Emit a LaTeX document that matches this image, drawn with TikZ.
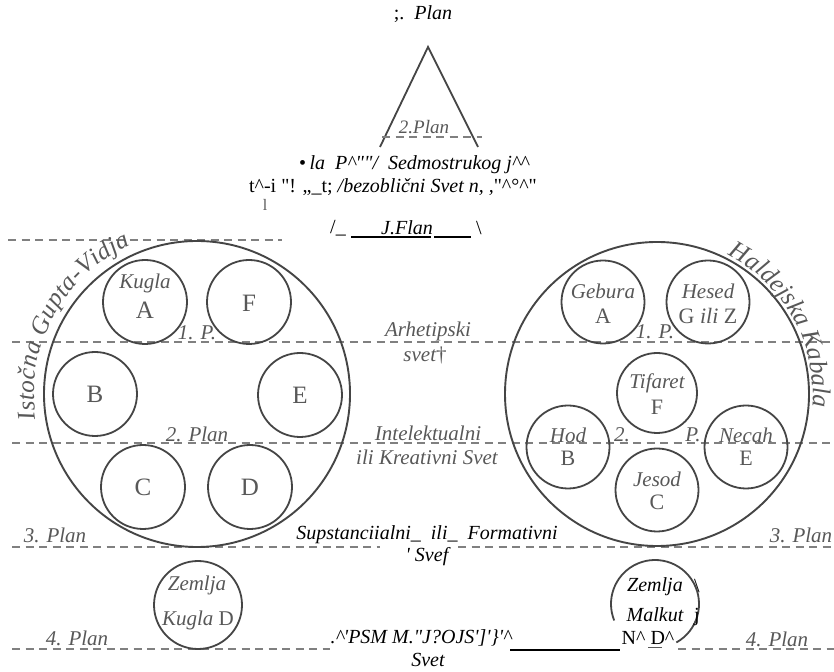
\documentclass[tikz,border=0pt]{standalone}
\usepackage{fontspec}
\setmainfont{Liberation Serif}
\usetikzlibrary{decorations.text}
\definecolor{tgray}{HTML}{585858}
\definecolor{cgray}{HTML}{454545}
\definecolor{dgray}{HTML}{808080}
\begin{document}
\begin{tikzpicture}[x=1pt,y=1pt,
  circ/.style={draw=cgray, line width=1.8pt, circle, inner sep=0pt, minimum size=84pt},
  bigc/.style={draw=cgray, line width=1.9pt, circle, inner sep=0pt, minimum size=306pt},
  dline/.style={draw=dgray, line width=1.1pt, dash pattern=on 8pt off 5.5pt},
  gtxt/.style={text=tgray, font=\fontsize{21}{21}\selectfont\itshape, inner sep=0pt},
  glet/.style={text=tgray, font=\fontsize{25}{25}\selectfont, inner sep=0pt},
  btxt/.style={text=black, font=\fontsize{20}{20}\selectfont\itshape, inner sep=0pt},
  bup/.style={text=black, font=\fontsize{20}{20}\selectfont, inner sep=0pt},
  uline/.style={draw=black, line width=2pt},
  arctxt/.style={decorate, decoration={text along path, text align=fit to path, text color=tgray}}
]
\fill[white] (0,0) rectangle (834,671);
\useasboundingbox (0,0) rectangle (834,671);

% ---------- top: triangle ----------
\node[btxt] (topplan) at (423,657) {\upshape;.\ \ \itshape Plan};
\coordinate (tapex) at (428,624);
\coordinate (tleft) at (380,524);
\coordinate (tright) at (478,524);
\draw[cgray, line width=1.8pt] (tleft) -- (tapex) -- (tright);
\coordinate (tdl) at (382,534);
\coordinate (tdr) at (482,534);
\draw[dline] (tdl) -- (tdr);
\node[gtxt, font=\fontsize{19}{19}\selectfont\itshape] (tplan) at (424,544) {2.Plan};

% ---------- OCR text lines ----------
\node[btxt] (line1) at (414,506) {{\upshape •}\,la\ \ P\textasciicircum\textquotedbl\textquotedbl/\ \ Sedmostrukog j\textasciicircum\textasciicircum};
\node[btxt] (line2) at (393,484) {\upshape t\textasciicircum-i \textquotedbl! „\_t; \itshape /bezoblični Svet n, ,\upshape\textquotedbl\textasciicircum°\textasciicircum\textquotedbl};
\node[text=tgray, font=\fontsize{16}{16}\selectfont, inner sep=0pt] (mark) at (265,466) {l};
\node[bup] (slash) at (338,443) {/\_};
\node[btxt] (jflan) at (407,443) {J.Flan};
\node[bup] (bslash) at (479,443) {\textbackslash};
\coordinate (u1a) at (351,434); \coordinate (u1b) at (431,434);
\coordinate (u2a) at (434,434); \coordinate (u2b) at (471,434);
\draw[uline] (u1a) -- (u1b);
\draw[uline] (u2a) -- (u2b);

% ---------- dashed plan lines ----------
\coordinate (d0a) at (8,431);   \coordinate (d0b) at (282,431);
\coordinate (d1a) at (12,329);  \coordinate (d1b) at (834,329);
\coordinate (d2a) at (12,228);  \coordinate (d2b) at (834,228);
\coordinate (d3a) at (12,124);  \coordinate (d3b) at (380,124);
\coordinate (d3c) at (458,124); \coordinate (d3d) at (834,124);
\coordinate (d4a) at (12,22);   \coordinate (d4b) at (330,22);
\coordinate (d4c) at (678,22);  \coordinate (d4d) at (834,22);
\draw[dline] (d0a) -- (d0b);
\draw[dline] (d1a) -- (d1b);
\draw[dline] (d2a) -- (d2b);
\draw[dline] (d3a) -- (d3b);
\draw[dline] (d3c) -- (d3d);
\draw[dline] (d4a) -- (d4b);
\draw[dline] (d4c) -- (d4d);

% ---------- left big circle ----------
\node[bigc] (L) at (197,277) {};
\path[arctxt, decoration={text={|\fontsize{25}{25}\selectfont\itshape|Istočna Gupta-Vidja}}]
  ([shift={(197,277)}]189:163) arc[start angle=189, end angle=114, radius=163];
\node[circ] (cA) at (145,369) {};
\node[circ] (cF) at (249,369) {};
\node[circ] (cB) at (95,277) {};
\node[circ] (cE) at (300,276) {};
\node[circ] (cC) at (143,184) {};
\node[circ] (cD) at (250,184) {};
\node[gtxt] (tKugla) at (145,388) {Kugla};
\node[glet] (tA) at (145,361) {A};
\node[glet] (tF) at (249,368) {F};
\node[glet] (tB) at (95,277) {B};
\node[glet] (tE) at (300,276) {E};
\node[glet] (tC) at (143,184) {C};
\node[glet] (tD) at (250,184) {D};
\node[gtxt] (l1p) at (197,338) {1. P.};
\node[gtxt] (l2p) at (197,237) {2. Plan};

% ---------- right big circle ----------
\node[bigc, minimum size=304pt] (R) at (657,277) {};
\path[arctxt, decoration={text={|\fontsize{25.5}{25.5}\selectfont\itshape|Haldejska Kabala}}]
  ([shift={(657,277)}]63:156) arc[start angle=63, end angle=-3, radius=156];
\node[circ, minimum size=83pt] (rGeb) at (603,369) {};
\node[circ, minimum size=83pt] (rHes) at (708,369) {};
\node[circ, minimum size=80pt] (rTif) at (657,278) {};
\node[circ, minimum size=83pt] (rHod) at (568,224) {};
\node[circ, minimum size=83pt] (rNec) at (746,224) {};
\node[circ, minimum size=83pt] (rJes) at (657,181) {};
\node[gtxt] (tGeb) at (603,380) {Gebura};
\node[glet, font=\fontsize{22}{22}\selectfont] (tGA) at (603,355) {A};
\node[gtxt] (tHes) at (708,380) {Hesed};
\node[glet, font=\fontsize{22}{22}\selectfont] (tHG) at (708,355) {G \textit{ili} Z};
\node[gtxt] (r1p) at (655,339) {1. P.};
\node[gtxt] (tTif) at (657,288) {Tifaret};
\node[glet, font=\fontsize{22}{22}\selectfont] (tTF) at (657,264) {F};
\node[gtxt] (tHod) at (568,236) {Hod};
\node[glet, font=\fontsize{22}{22}\selectfont] (tHB) at (568,213) {B};
\node[gtxt] (tNec) at (746,236) {Necah};
\node[glet, font=\fontsize{22}{22}\selectfont] (tNE) at (746,213) {E};
\node[gtxt] (r2) at (622,236) {2.};
\node[gtxt] (rP) at (693,236) {P.};
\node[gtxt] (tJes) at (657,192) {Jesod};
\node[glet, font=\fontsize{22}{22}\selectfont] (tJC) at (657,169) {C};

% ---------- middle labels ----------
\node[gtxt] (arh) at (428,340) {Arhetipski};
\node[gtxt] (svet1) at (425,316) {svet{\upshape †}};
\node[gtxt] (intel) at (428,238) {Intelektualni};
\node[gtxt] (kreat) at (427,214) {ili Kreativni Svet};
\node[btxt] (supst) at (427,136) {Supstanciialni\_ \ ili\_ \ Formativni};
\node[btxt] (svef) at (427,114) {\textquotesingle\ Svef};
\node[gtxt] (p3l) at (55,136) {3. Plan};
\node[gtxt] (p3r) at (801,136) {3. Plan};

% ---------- bottom ----------
\node[circ, minimum size=88pt] (zk) at (198,66) {};
\node[gtxt] (zkz) at (197,86) {Zemlja};
\node[gtxt] (zkk) at (198,51) {Kugla {\upshape D}};
\coordinate (zm) at (655,67);
\draw[cgray, line width=1.8pt] ([shift={(zm)}]-61:44) arc[start angle=-61, end angle=202, radius=44];
\node[btxt] (zmz) at (655,84) {Zemlja};
\node[btxt] (zmm) at (655,56) {Malkut};
\node[bup] (zmbs) at (697,85) {\textbackslash};
\node[bup] (zmj) at (697,54) {j};
\node[gtxt] (p4l) at (77,33) {4. Plan};
\node[gtxt] (p4r) at (777,32) {4. Plan};
\node[btxt] (bot) at (421,33) {.\textasciicircum\textquotesingle PSM M.\textquotedbl J?OJS\textquotesingle]\textquotesingle\}\textquotesingle\textasciicircum};
\coordinate (bu1) at (510,21); \coordinate (bu2) at (620,21);
\draw[uline] (bu1) -- (bu2);
\node[bup] (nd) at (648,33) {N\textasciicircum\ D\textasciicircum};
\coordinate (du1) at (648,24); \coordinate (du2) at (662,24);
\draw[tgray, line width=0.8pt] (du1) -- (du2);
\node[btxt] (svetb) at (428,11) {Svet};
\end{tikzpicture}
\end{document}
